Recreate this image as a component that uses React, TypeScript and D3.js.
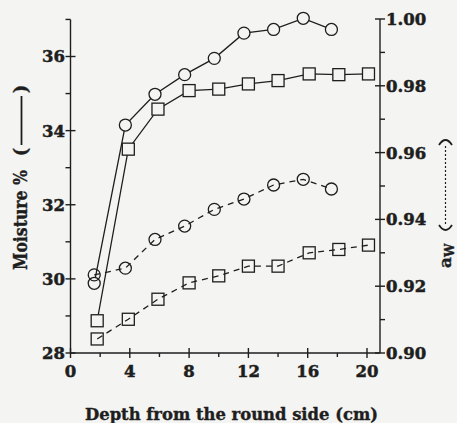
import React from "react";
import * as d3 from "d3";

// depth positions (cm)
const circleDepth = [1.6, 3.7, 5.7, 7.7, 9.7, 11.7, 13.7, 15.7, 17.6];
const squareDepth = [1.8, 3.9, 5.9, 8.0, 10.0, 12.0, 14.0, 16.1, 18.1, 20.1];

// moisture % (solid lines, left axis)
const moistureCircles = [29.88, 34.15, 34.98, 35.51, 35.95, 36.63, 36.73, 37.03, 36.73];
const moistureSquares = [28.87, 33.5, 34.58, 35.08, 35.12, 35.26, 35.35, 35.53, 35.51, 35.53];

// water activity (dashed lines, right axis)
const awCircles = [0.9234, 0.9254, 0.934, 0.938, 0.943, 0.9461, 0.9503, 0.952, 0.9491];
const awSquares = [0.9042, 0.9101, 0.9161, 0.921, 0.9231, 0.926, 0.926, 0.93, 0.931, 0.9323];

const xMajor = [0, 4, 8, 12, 16, 20];
const xMinor = [2, 6, 10, 14, 18];
const leftMajor = [28, 30, 32, 34, 36];
const leftMinor = [29, 31, 33, 35, 37];
const rightMajor = [0.9, 0.92, 0.94, 0.96, 0.98, 1.0];
const rightMinor = [0.91, 0.93, 0.95, 0.97, 0.99];

const W = 457;
const H = 423;
const ink = "#1e1e1e";
const bg = "#f4f4f2";
const font = "'DejaVu Serif', serif";

export default function App() {
  const x = d3.scaleLinear().domain([0, 20]).range([70.5, 367]);
  const yL = d3.scaleLinear().domain([28, 36]).range([353, 56.5]);
  const yR = d3.scaleLinear().domain([0.9, 1.0]).range([353, 19]);
  const xEnd = 380;
  const yTop = yL(37);

  const lineL = d3.line<[number, number]>().x(d => x(d[0])).y(d => yL(d[1]));
  const lineR = d3.line<[number, number]>().x(d => x(d[0])).y(d => yR(d[1]));

  const series = [
    { xs: circleDepth, ys: moistureCircles, shape: "circle", dashed: false },
    { xs: squareDepth, ys: moistureSquares, shape: "square", dashed: false },
    { xs: circleDepth, ys: awCircles, shape: "circle", dashed: true },
    { xs: squareDepth, ys: awSquares, shape: "square", dashed: true },
  ];

  return (
    <svg width={W} height={H} style={{ position: "absolute", left: 0, top: 0 }} fontFamily={font}>
      <rect width={W} height={H} fill={bg} />

      {/* axes */}
      <g stroke={ink} strokeWidth={1.4} fill="none">
        <line x1={x(0)} x2={x(0)} y1={yTop} y2={yL(28)} />
        <line x1={xEnd} x2={xEnd} y1={yR(1)} y2={yR(0.9)} />
        <line x1={x(0)} x2={xEnd} y1={yL(28)} y2={yL(28)} />
        {xMajor.map(v => <line key={"xm" + v} x1={x(v)} x2={x(v)} y1={yL(28) - 5} y2={yL(28) + 5} />)}
        {xMinor.map(v => <line key={"xn" + v} x1={x(v)} x2={x(v)} y1={yL(28)} y2={yL(28) + 4} />)}
        {leftMajor.map(v => <line key={"lm" + v} x1={x(0) - 5} x2={x(0) + 5} y1={yL(v)} y2={yL(v)} />)}
        {leftMinor.map(v => <line key={"ln" + v} x1={x(0) - 5} x2={x(0)} y1={yL(v)} y2={yL(v)} />)}
        {rightMajor.map(v => <line key={"rm" + v} x1={xEnd - 5} x2={xEnd + 5} y1={yR(v)} y2={yR(v)} />)}
        {rightMinor.map(v => <line key={"rn" + v} x1={xEnd} x2={xEnd + 5} y1={yR(v)} y2={yR(v)} />)}
      </g>

      {/* tick labels */}
      <g fill={ink} stroke={ink} strokeWidth={0.5} fontWeight="bold" fontSize={16.5}>
        {xMajor.map(v => <text key={"xt" + v} x={x(v)} y={377} textAnchor="middle">{v}</text>)}
        {leftMajor.map(v => <text key={"lt" + v} x={65} y={yL(v)} dy="0.36em" textAnchor="end">{v}</text>)}
        {rightMajor.map(v => <text key={"rt" + v} x={386} y={yR(v)} dy="0.36em" textAnchor="start">{v.toFixed(2)}</text>)}
      </g>

      {/* series */}
      {series.map((s, i) => {
        const pts = s.xs.map((d, j) => [d, s.ys[j]] as [number, number]);
        const line = s.dashed ? lineR : lineL;
        const yS = s.dashed ? yR : yL;
        return (
          <g key={i} stroke={ink} strokeWidth={1.3}>
            <path d={line(pts) || ""} fill="none" strokeDasharray={s.dashed ? "6,5" : undefined} />
            {pts.map((p, j) =>
              s.shape === "circle" ? (
                <circle key={j} cx={x(p[0])} cy={yS(p[1])} r={6} fill={s.dashed ? "none" : bg} />
              ) : (
                <rect key={j} x={x(p[0]) - 6} y={yS(p[1]) - 6} width={12} height={12} fill={s.dashed ? "none" : bg} />
              )
            )}
          </g>
        );
      })}

      {/* x title */}
      <text x={85} y={420} fontWeight="bold" fontSize={17.5} fill={ink} stroke={ink} strokeWidth={0.4}
        textLength={293} lengthAdjust="spacingAndGlyphs">
        Depth from the round side (cm)
      </text>

      {/* left title */}
      <g fill={ink} stroke={ink} strokeWidth={0.4} fontWeight="bold" fontSize={18}>
        <text transform="translate(27,270) rotate(-90)" textLength={100} lengthAdjust="spacingAndGlyphs">Moisture %</text>
        <text transform="translate(27,152) rotate(-90)" textAnchor="middle">(</text>
        <text transform="translate(27,89) rotate(-90)" textAnchor="middle">)</text>
      </g>
      <line x1={21.5} x2={21.5} y1={96} y2={145} stroke={ink} strokeWidth={1.8} />

      {/* right title */}
      <g fill={ink} stroke={ink} strokeWidth={0.4} fontWeight="bold" fontSize={17}>
        <text transform="translate(451,268) rotate(-90)">
          a<tspan fontSize={12} dy={3}>W</tspan>
        </text>
      </g>
      <g fill="none" stroke={ink} strokeWidth={1.8}>
        <path d="M439,145 Q445.5,135 452,145" />
        <path d="M439,225 Q445.5,235 452,225" />
      </g>
      <line x1={445.5} x2={445.5} y1={146} y2={224} stroke={ink} strokeWidth={1.2} strokeDasharray="2,2" />
    </svg>
  );
}
